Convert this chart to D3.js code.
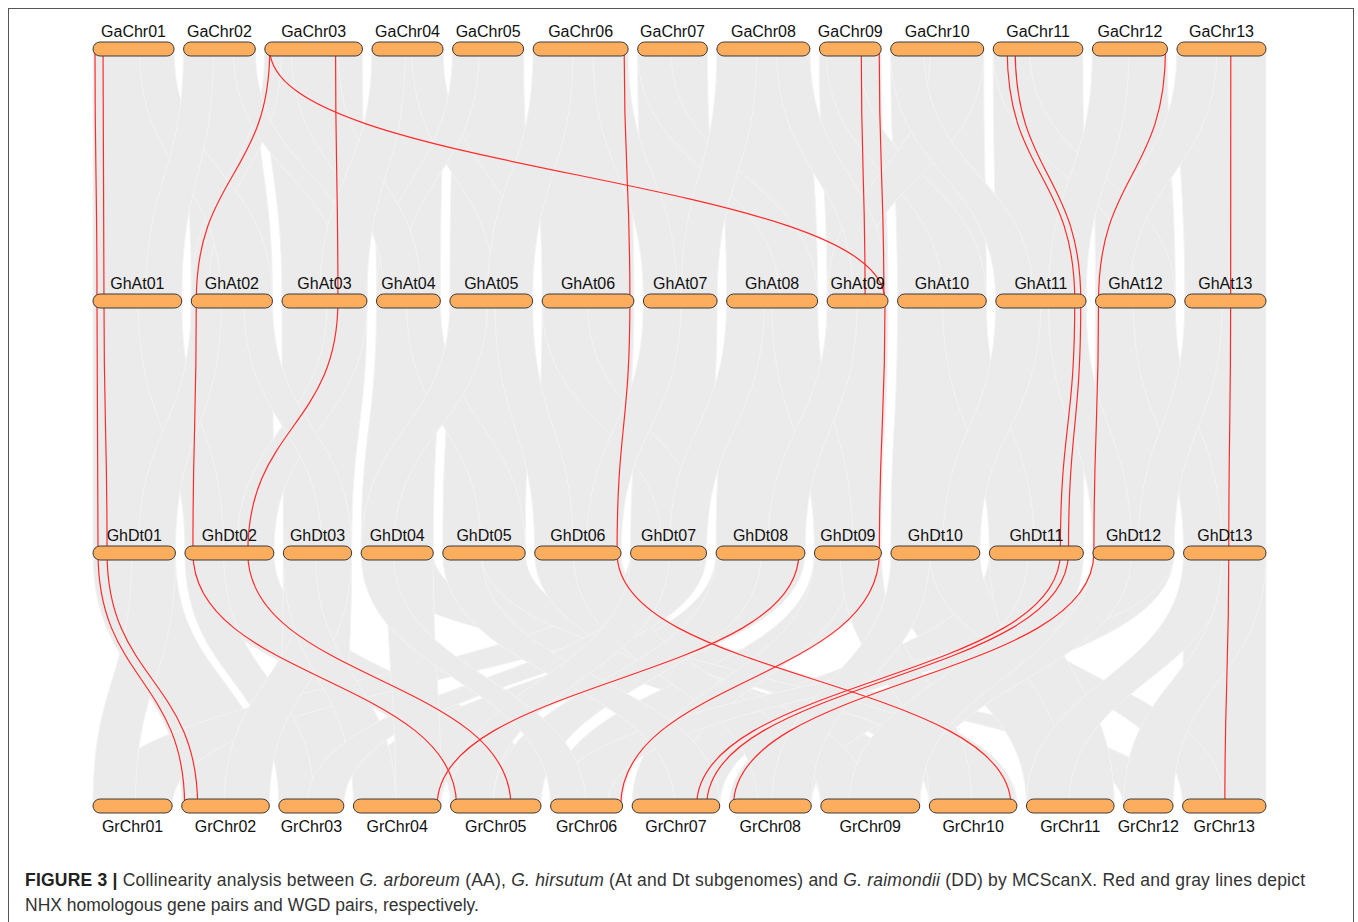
<!DOCTYPE html>
<html>
<head>
<meta charset="utf-8">
<script src="https://cdn.jsdelivr.net/npm/d3@7"></script>
<style>
  body { margin: 0; background: #fff; }
  svg text { font-family: "Liberation Sans", Arial, sans-serif; }
</style>
</head>
<body>
<div id="chart"></div>
<script>
// chromosome names and lengths (Mb), one list per genome row
const gaChr = ['GaChr01','GaChr02','GaChr03','GaChr04','GaChr05','GaChr06','GaChr07','GaChr08','GaChr09','GaChr10','GaChr11','GaChr12','GaChr13'];
const gaLen = [122, 108, 147, 107, 107, 143, 105, 140, 93, 140, 135, 113, 134];
const atChr = ['GhAt01','GhAt02','GhAt03','GhAt04','GhAt05','GhAt06','GhAt07','GhAt08','GhAt09','GhAt10','GhAt11','GhAt12','GhAt13'];
const atLen = [118, 108, 113, 85, 110, 122, 98, 121, 81, 118, 120, 106, 108];
const dtChr = ['GhDt01','GhDt02','GhDt03','GhDt04','GhDt05','GhDt06','GhDt07','GhDt08','GhDt09','GhDt10','GhDt11','GhDt12','GhDt13'];
const dtLen = [64, 69, 53, 56, 64, 67, 59, 69, 52, 69, 73, 63, 64];
const grChr = ['GrChr01','GrChr02','GrChr03','GrChr04','GrChr05','GrChr06','GrChr07','GrChr08','GrChr09','GrChr10','GrChr11','GrChr12','GrChr13'];
const grLen = [56, 62, 46, 62, 64, 51, 62, 58, 70, 62, 62, 35, 59];

// WGD collinear blocks: [upper chr, start, end, lower chr, start, end] (Mb)
const gaAtBlocks = [
  [1, 0, 122, 1, 0, 118], [2, 0, 108, 2, 0, 108], [3, 0, 147, 3, 0, 113],
  [4, 0, 107, 4, 0, 85], [5, 0, 107, 5, 0, 110], [6, 0, 143, 6, 0, 122],
  [7, 0, 105, 7, 0, 98], [8, 0, 140, 8, 0, 121], [9, 0, 93, 9, 0, 81],
  [10, 0, 140, 10, 0, 118], [11, 0, 135, 11, 0, 120], [12, 0, 113, 12, 0, 106],
  [13, 0, 134, 13, 0, 108],
  [3, 0, 25, 2, 0, 22], [2, 75, 108, 3, 85, 113], [4, 60, 107, 5, 60, 110], [5, 0, 40, 4, 0, 30],
  [1, 70, 122, 2, 40, 108], [2, 0, 45, 1, 70, 118], [3, 40, 110, 4, 10, 60], [4, 0, 50, 3, 50, 113],
  [6, 0, 60, 5, 50, 110], [7, 0, 50, 8, 70, 121], [8, 0, 60, 7, 50, 98], [9, 10, 60, 10, 60, 118],
  [10, 60, 140, 9, 0, 40], [11, 0, 55, 12, 55, 106], [12, 0, 55, 11, 70, 120], [13, 0, 60, 12, 0, 45],
  [6, 90, 143, 7, 0, 45], [8, 90, 140, 9, 35, 81], [10, 0, 50, 11, 0, 50]
];
const atDtBlocks = [
  [1, 0, 118, 1, 0, 64], [2, 0, 108, 2, 0, 69], [3, 0, 113, 3, 0, 53],
  [4, 0, 85, 4, 0, 56], [5, 0, 110, 5, 0, 64], [6, 0, 122, 6, 0, 67],
  [7, 0, 98, 7, 0, 59], [8, 0, 121, 8, 0, 69], [9, 0, 81, 9, 0, 52],
  [10, 0, 118, 10, 0, 69], [11, 0, 120, 11, 0, 73], [12, 0, 106, 12, 0, 63],
  [13, 0, 108, 13, 0, 64],
  [3, 60, 113, 2, 40, 69], [2, 70, 108, 3, 30, 53], [4, 40, 85, 5, 30, 64], [5, 0, 50, 4, 0, 25],
  [1, 60, 118, 2, 0, 30], [2, 0, 40, 1, 35, 64], [6, 0, 60, 7, 25, 59], [7, 0, 50, 6, 40, 67],
  [8, 60, 121, 9, 0, 30], [9, 0, 40, 8, 40, 69], [10, 60, 118, 11, 0, 35], [11, 0, 60, 10, 40, 69],
  [12, 50, 106, 13, 0, 30], [13, 0, 50, 12, 35, 63], [5, 60, 110, 6, 0, 30], [8, 0, 50, 7, 30, 59],
  [11, 70, 120, 12, 0, 30]
];
const dtGrBlocks = [
  [1, 0, 64, 2, 0, 62], [2, 0, 69, 5, 0, 64], [3, 0, 53, 3, 0, 46],
  [4, 0, 56, 12, 0, 35], [5, 0, 64, 9, 0, 70], [6, 0, 67, 10, 0, 62],
  [7, 0, 59, 1, 0, 56], [8, 0, 69, 4, 0, 62], [9, 0, 52, 6, 0, 51],
  [10, 0, 69, 11, 0, 62], [11, 0, 73, 7, 0, 62], [12, 0, 63, 8, 0, 58],
  [13, 0, 64, 13, 0, 59],
  [1, 30, 64, 1, 0, 30], [2, 0, 30, 3, 0, 25], [3, 20, 53, 2, 30, 62], [3, 0, 25, 4, 0, 30],
  [5, 30, 64, 10, 30, 62], [6, 0, 30, 9, 0, 35], [6, 30, 67, 8, 20, 58], [7, 20, 59, 3, 20, 46],
  [8, 0, 35, 5, 30, 64], [9, 0, 30, 7, 0, 30], [10, 30, 69, 13, 0, 30], [11, 0, 40, 11, 30, 62],
  [12, 20, 63, 6, 0, 40], [12, 0, 30, 9, 40, 70], [13, 0, 35, 11, 0, 30], [13, 30, 64, 12, 0, 35],
  [4, 20, 56, 4, 30, 62],
  [5, 0, 30, 7, 30, 62], [7, 0, 30, 5, 0, 30], [9, 20, 52, 10, 0, 30], [11, 30, 73, 9, 20, 70],
  [10, 0, 30, 8, 30, 58], [4, 0, 25, 6, 0, 25]
];

// NHX homologous gene pairs: [upper chr, pos, lower chr, pos] (Mb)
const gaAtPairs = [
  [1, 3.0, 1, 5.3], [1, 15.1, 1, 14.6], [3, 7.5, 2, 6.7], [3, 7.5, 9, 77],
  [3, 106.5, 3, 74.4], [6, 137, 6, 116.7], [9, 63, 9, 50.5], [9, 90, 9, 75.5],
  [11, 21, 11, 105], [11, 33, 11, 113], [12, 110, 12, 4], [13, 81, 13, 61]
];
const atDtPairs = [
  [1, 5.3, 1, 3.9], [1, 14.6, 1, 10.9], [2, 6.7, 2, 6.2], [3, 74.4, 2, 48.8],
  [6, 116.7, 6, 63.9], [9, 77, 9, 50.4], [11, 105, 11, 55.1], [11, 113, 11, 61.4],
  [12, 4, 12, 0.8], [13, 61, 13, 35.1]
];
const dtGrPairs = [
  [1, 3.9, 2, 2.1], [1, 10.9, 2, 11.3], [2, 6.2, 5, 4.3], [2, 48.8, 5, 42.7],
  [8, 64.3, 4, 59.2], [6, 63.9, 10, 57.8], [9, 50.4, 6, 49.6],
  [11, 55.1, 7, 45.6], [11, 61.4, 7, 52.7], [12, 0.8, 8, 2.9], [13, 35.1, 13, 29.9]
];

const width = 1358, height = 922;
const x0 = 93, x1 = 1266, gap = 9.5, barH = 14;
const rowY = [49, 301, 553, 806];

const svg = d3.select('#chart').append('svg')
  .attr('width', width)
  .attr('height', height);

// one linear scale per chromosome, laid out left to right with a fixed gap
function layoutRow(lens) {
  const k = (x1 - x0 - gap * (lens.length - 1)) / d3.sum(lens);
  let cum = 0;
  return lens.map((len, i) => {
    const start = x0 + cum * k + i * gap;
    cum += len;
    return d3.scaleLinear().domain([0, len]).range([start, start + len * k]);
  });
}

const rows = [
  { names: gaChr, lens: gaLen, label: 'above' },
  { names: atChr, lens: atLen, label: 'above' },
  { names: dtChr, lens: dtLen, label: 'above' },
  { names: grChr, lens: grLen, label: 'below' }
];
rows.forEach((r, i) => { r.scales = layoutRow(r.lens); r.y = rowY[i]; });

const layers = [
  { up: rows[0], lo: rows[1], blocks: gaAtBlocks, pairs: gaAtPairs },
  { up: rows[1], lo: rows[2], blocks: atDtBlocks, pairs: atDtPairs },
  { up: rows[2], lo: rows[3], blocks: dtGrBlocks, pairs: dtGrPairs }
];

function ribbon(ua, ub, la, lb, yU, yL) {
  const ym = (yU + yL) / 2;
  const p = d3.path();
  p.moveTo(ua, yU);
  p.bezierCurveTo(ua, ym, la, ym, la, yL);
  p.lineTo(lb, yL);
  p.bezierCurveTo(lb, ym, ub, ym, ub, yU);
  p.closePath();
  return p.toString();
}

const gGray = svg.append('g').attr('class', 'wgd');
layers.forEach(L => {
  gGray.selectAll(null)
    .data(L.blocks)
    .join('path')
      .attr('d', b => {
        const su = L.up.scales[b[0] - 1], sl = L.lo.scales[b[3] - 1];
        return ribbon(su(b[1]), su(b[2]), sl(b[4]), sl(b[5]), L.up.y, L.lo.y);
      })
      .attr('fill', '#ebebeb')
      .attr('stroke', '#f3f3f3')
      .attr('stroke-width', 1);
});

const link = d3.linkVertical().x(d => d[0]).y(d => d[1]);
const gRed = svg.append('g').attr('class', 'nhx');
layers.forEach(L => {
  gRed.selectAll(null)
    .data(L.pairs)
    .join('path')
      .attr('d', p => link({
        source: [L.up.scales[p[0] - 1](p[1]), L.up.y],
        target: [L.lo.scales[p[2] - 1](p[3]), L.lo.y]
      }))
      .attr('fill', 'none')
      .attr('stroke', '#ff2b2b')
      .attr('stroke-width', 1.2);
});

// chromosome bars and names
rows.forEach(r => {
  const g = svg.append('g');
  g.selectAll('rect')
    .data(r.names)
    .join('rect')
      .attr('x', (d, i) => r.scales[i].range()[0])
      .attr('y', r.y - barH / 2)
      .attr('width', (d, i) => r.scales[i].range()[1] - r.scales[i].range()[0])
      .attr('height', barH)
      .attr('rx', 7)
      .attr('fill', '#fdad5e')
      .attr('stroke', '#3a3a3a')
      .attr('stroke-width', 1);
  g.selectAll('text')
    .data(r.names)
    .join('text')
      .attr('x', (d, i) => d3.mean(r.scales[i].range()))
      .attr('y', r.label === 'above' ? r.y - 12 : r.y + 26)
      .attr('text-anchor', 'middle')
      .attr('font-size', 16)
      .attr('fill', '#111')
      .text(d => d);
});

// frame
svg.append('rect')
  .attr('x', 8.5).attr('y', 8.5)
  .attr('width', 1345).attr('height', 930)
  .attr('fill', 'none')
  .attr('stroke', '#555')
  .attr('stroke-width', 1);

// caption
const cap1 = svg.append('text')
  .attr('x', 25).attr('y', 886)
  .attr('font-size', 17.5)
  .attr('fill', '#333')
  .attr('textLength', 1280)
  .attr('lengthAdjust', 'spacing');
cap1.append('tspan').attr('font-weight', 'bold').attr('fill', '#222').text('FIGURE 3 | ');
cap1.append('tspan').text('Collinearity analysis between ');
cap1.append('tspan').attr('font-style', 'italic').text('G. arboreum');
cap1.append('tspan').text(' (AA), ');
cap1.append('tspan').attr('font-style', 'italic').text('G. hirsutum');
cap1.append('tspan').text(' (At and Dt subgenomes) and ');
cap1.append('tspan').attr('font-style', 'italic').text('G. raimondii');
cap1.append('tspan').text(' (DD) by MCScanX. Red and gray lines depict');

svg.append('text')
  .attr('x', 25).attr('y', 911)
  .attr('font-size', 17.5)
  .attr('fill', '#333')
  .text('NHX homologous gene pairs and WGD pairs, respectively.');
</script>
</body>
</html>
